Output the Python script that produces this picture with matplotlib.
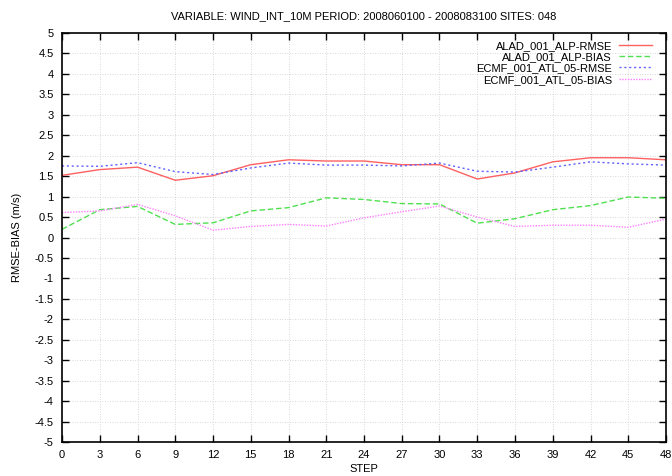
import matplotlib
matplotlib.use("Agg")
import matplotlib.pyplot as plt
import numpy as np

steps = [0, 3, 6, 9, 12, 15, 18, 21, 24, 27, 30, 33, 36, 39, 42, 45, 48]
alad_rmse = [1.52, 1.66, 1.72, 1.40, 1.51, 1.78, 1.90, 1.87, 1.87, 1.78, 1.78, 1.43, 1.58, 1.85, 1.95, 1.95, 1.90]
alad_bias = [0.20, 0.68, 0.76, 0.32, 0.36, 0.65, 0.73, 0.97, 0.93, 0.83, 0.82, 0.35, 0.46, 0.68, 0.78, 0.99, 0.96]
ecmf_rmse = [1.75, 1.74, 1.83, 1.61, 1.54, 1.70, 1.82, 1.77, 1.77, 1.75, 1.82, 1.62, 1.60, 1.72, 1.85, 1.80, 1.77]
ecmf_bias = [0.61, 0.65, 0.81, 0.53, 0.18, 0.27, 0.32, 0.28, 0.48, 0.63, 0.77, 0.50, 0.27, 0.30, 0.30, 0.25, 0.45]
labels = ["ALAD_001_ALP-RMSE", "ALAD_001_ALP-BIAS", "ECMF_001_ATL_05-RMSE", "ECMF_001_ATL_05-BIAS"]
title = "VARIABLE: WIND_INT_10M PERIOD: 2008060100 - 2008083100 SITES: 048"

plt.rcParams['font.family'] = ['Liberation Sans', 'DejaVu Sans']
fig = plt.figure(figsize=(6.72, 4.76), dpi=100)
ax = fig.add_axes([62/672, 34/476, (666-62)/672, (443-34)/476])

ax.plot(steps, alad_rmse, color='#ff6060', lw=1.0, ls='-', label=labels[0])
ax.plot(steps, alad_bias, color='#50e050', lw=1.0, ls=(0, (4, 2)), label=labels[1])
ax.plot(steps, ecmf_rmse, color='#6060ff', lw=1.0, ls=(0, (1.5, 2)), label=labels[2])
ax.plot(steps, ecmf_bias, color='#ff80ff', lw=1.0, ls=(0, (1, 1)), label=labels[3])

ax.set_xlim(0, 48)
ax.set_ylim(-5, 5)
ax.set_xticks(steps)
yt = np.arange(-5, 5.01, 0.5)
ax.set_yticks(yt)
ax.set_yticklabels([("%g" % v) for v in yt])
ax.tick_params(direction='in', top=True, right=True, length=5, width=1, labelsize=8, pad=6)
ax.grid(True, color='#cccccc', ls=(0, (1, 2)), lw=0.6)
for s in ax.spines.values():
    s.set_linewidth(1.2)
ax.set_xlabel("STEP", fontsize=8, labelpad=3)
ax.set_ylabel("RMSE-BIAS (m/s)", fontsize=8, labelpad=9)
fig.text(364/672, 1 - 16/476, title, ha='center', va='center', fontsize=8)

leg = ax.legend(loc='upper right', bbox_to_anchor=(0.984, 0.992), frameon=False, markerfirst=False,
                fontsize=8, handlelength=3.0, labelspacing=0.12, borderaxespad=0.0, handletextpad=0.6)
for t in leg.get_texts():
    t.set_ha('right')
fig.savefig("out.png", dpi=100)
